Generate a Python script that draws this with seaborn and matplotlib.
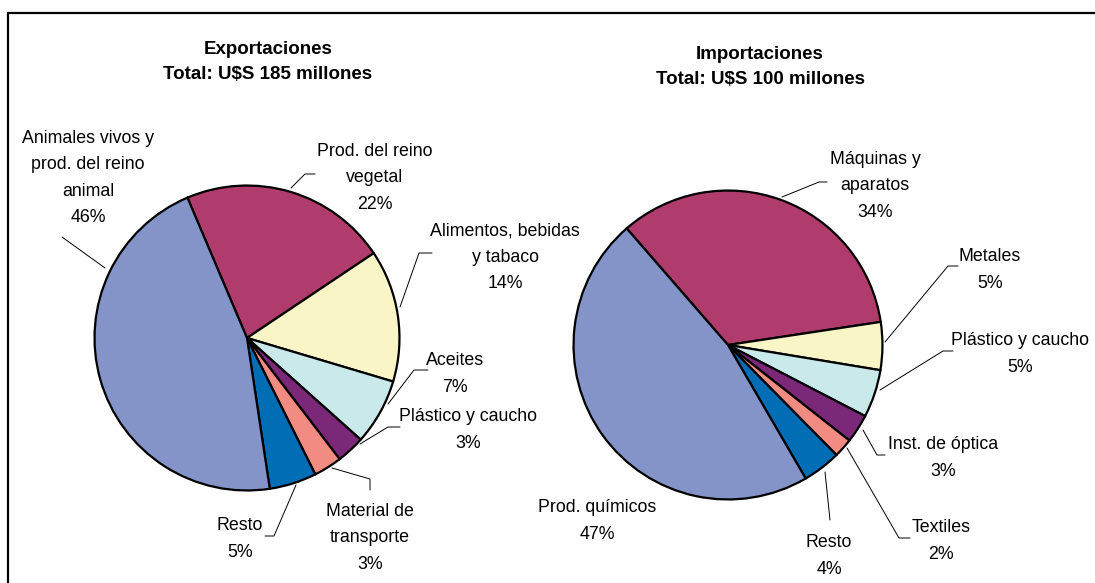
import matplotlib
matplotlib.use("Agg")
import matplotlib.pyplot as plt
import seaborn as sns

sns.set_theme(style="white")
plt.rcParams['font.family'] = ['Liberation Sans', 'DejaVu Sans']

# data (clockwise order, starting at the upper-left boundary)
exp_labels = ["Prod. del reino\nvegetal", "Alimentos, bebidas\ny tabaco", "Aceites",
              "Plástico y caucho", "Material de\ntransporte", "Resto",
              "Animales vivos y\nprod. del reino\nanimal"]
exp_values = [22, 14, 7, 3, 3, 5, 46]

imp_labels = ["Máquinas y\naparatos", "Metales", "Plástico y caucho",
              "Inst. de óptica", "Textiles", "Resto", "Prod. químicos"]
imp_values = [34, 5, 5, 3, 2, 4, 47]

colors = sns.color_palette(["#B03C6E", "#FAF5C6", "#C9E9EB", "#7B2878",
                            "#F28B82", "#006DB5", "#8594C8"])

W, H = 1095, 583
fig = plt.figure(figsize=(W / 100, H / 100), dpi=100)


def pie_axes(cx, cy, r):
    return fig.add_axes([(cx - r) / W, (H - cy - r) / H, 2 * r / W, 2 * r / H])


# label layout: (text centre x, y) and leader polyline, in pixels
exp_layout = [
    ((375, 178), [(315, 174), (305, 174), (291, 188)]),
    ((505, 257), [(432, 253), (419, 253), (400, 307)]),
    ((455, 374), [(428, 370), (414, 370), (388, 404)]),
    ((468, 430), [(400, 427), (388, 427), (360, 444)]),
    ((370, 538), [(332, 468), (370, 479), (370, 490)]),
    ((240, 539), [(265, 536), (274, 536), (296, 485)]),
    ((88, 178), [(62, 237), (105, 268)]),
]
imp_layout = [
    ((875, 186), [(827, 182), (819, 182), (782, 197)]),
    ((990, 270), [(958, 266), (948, 266), (885, 342)]),
    ((1020, 354), [(953, 351), (943, 351), (880, 390)]),
    ((943, 458), [(885, 455), (877, 455), (863, 430)]),
    ((941, 541), [(910, 538), (899, 538), (847, 448)]),
    ((829, 556), [(830, 520), (825, 472)]),
    ((597, 521), []),
]

charts = [
    ("Exportaciones\nTotal: U$S 185 millones", exp_labels, exp_values, exp_layout,
     (247, 338, 154), 113, (268, 62)),
    ("Importaciones\nTotal: U$S 100 millones", imp_labels, imp_values, imp_layout,
     (728, 345, 156), 131, (760, 67)),
]

for title, labels, values, layout, (cx, cy, r), start, tpos in charts:
    ax = pie_axes(cx, cy, r)
    ax.pie(values, colors=colors, startangle=start, counterclock=False, radius=1,
           wedgeprops=dict(edgecolor="black", linewidth=1.6))
    ax.set_xlim(-1.01, 1.01)
    ax.set_ylim(-1.01, 1.01)
    ax.axis("off")

overlay = fig.add_axes([0, 0, 1, 1], zorder=5)
overlay.set_xlim(0, W)
overlay.set_ylim(H, 0)
overlay.axis("off")
overlay.patch.set_alpha(0)

for title, labels, values, layout, center, start, tpos in charts:
    overlay.text(tpos[0], tpos[1], title, ha="center", va="center",
                 fontsize=13.5, fontweight="bold", linespacing=1.6, color="black")
    for lab, val, ((tx, ty), line) in zip(labels, values, layout):
        overlay.text(tx, ty, f"{lab}\n{val}%", ha="center", va="center",
                     fontsize=12.8, linespacing=1.72, color="black")
        if line:
            xs, ys = zip(*line)
            overlay.plot(xs, ys, color="black", lw=0.7)

# frame (top and left edges)
overlay.plot([8, W], [13, 13], color="black", lw=1.6, clip_on=False)
overlay.plot([8, 8], [13, H], color="black", lw=1.6, clip_on=False)

fig.savefig("out.png", dpi=100, facecolor="white")
